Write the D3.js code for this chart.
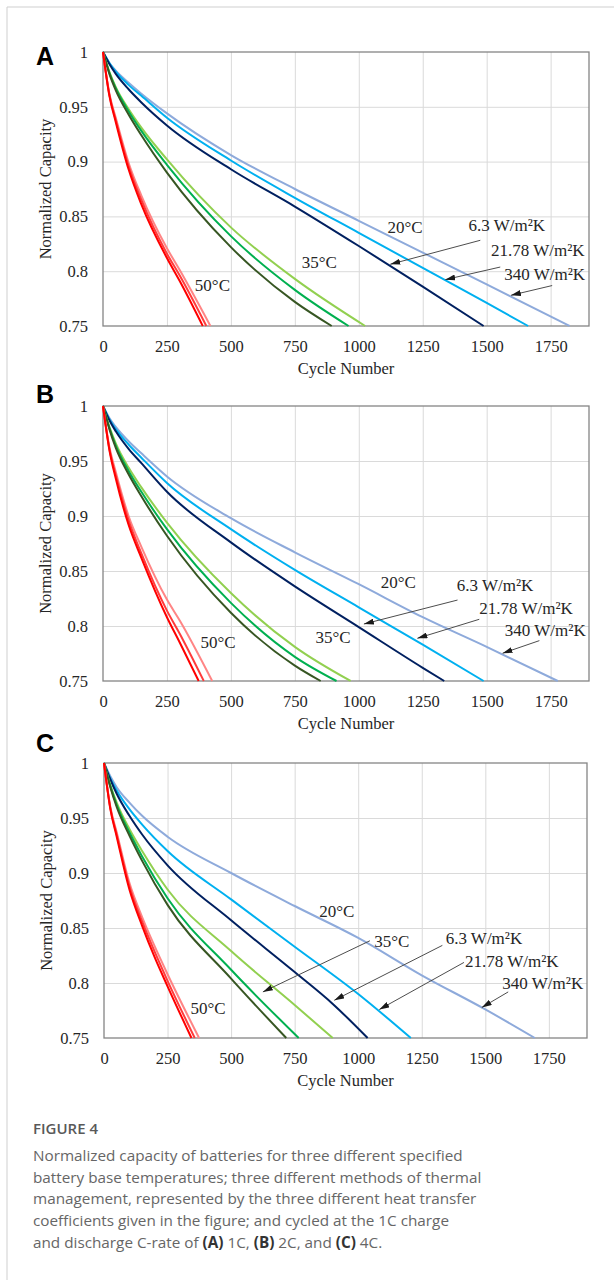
<!DOCTYPE html>
<html>
<head>
<meta charset="utf-8">
<script src="https://cdn.jsdelivr.net/npm/d3@7"></script>
<style>
  body { margin: 0; background: #fff; }
  svg { display: block; }
</style>
</head>
<body>
<svg id="chart" width="614" height="1280"></svg>
<script>
// ---- axis ticks ----
const xTicks = [0, 250, 500, 750, 1000, 1250, 1500, 1750];
const yTicks = [0.75, 0.8, 0.85, 0.9, 0.95, 1];
const xMax = 1900;

// ---- (A) 1C : [cycle, normalized capacity] ----
const a20_340 = [[0,1],[25,0.99],[50,0.983],[100,0.972],[150,0.962],[250,0.944],[500,0.906],[750,0.875],[1000,0.846],[1250,0.817],[1500,0.788],[1824,0.75]];
const a20_21  = [[0,1],[25,0.99],[50,0.982],[100,0.97],[150,0.96],[250,0.94],[500,0.901],[750,0.867],[1000,0.835],[1250,0.803],[1500,0.771],[1662,0.75]];
const a20_6   = [[0,1],[25,0.989],[50,0.98],[100,0.966],[150,0.954],[250,0.933],[500,0.893],[750,0.859],[1000,0.823],[1250,0.786],[1488,0.75]];
const a35_340 = [[0,1],[25,0.982],[50,0.968],[100,0.948],[150,0.931],[250,0.902],[500,0.84],[750,0.793],[1025,0.75]];
const a35_21  = [[0,1],[25,0.981],[50,0.967],[100,0.946],[150,0.928],[250,0.897],[500,0.832],[750,0.783],[960,0.75]];
const a35_6   = [[0,1],[25,0.98],[50,0.965],[100,0.943],[150,0.924],[250,0.89],[500,0.822],[750,0.772],[894,0.75]];
const a50_340 = [[0,1],[25,0.962],[50,0.94],[100,0.899],[150,0.869],[250,0.821],[300,0.801],[420,0.75]];
const a50_21  = [[0,1],[25,0.961],[50,0.938],[100,0.896],[150,0.865],[250,0.816],[300,0.796],[404,0.75]];
const a50_6   = [[0,1],[25,0.96],[50,0.936],[100,0.893],[150,0.861],[250,0.812],[300,0.791],[390,0.75]];

// ---- (B) 2C ----
const b20_340 = [[0,1],[25,0.989],[50,0.981],[100,0.968],[150,0.957],[250,0.936],[500,0.898],[750,0.867],[1000,0.838],[1250,0.808],[1500,0.781],[1778,0.75]];
const b20_21  = [[0,1],[25,0.988],[50,0.979],[100,0.965],[150,0.953],[250,0.93],[500,0.888],[750,0.851],[1000,0.817],[1250,0.783],[1488,0.75]];
const b20_6   = [[0,1],[25,0.987],[50,0.977],[100,0.961],[150,0.948],[250,0.922],[500,0.876],[750,0.836],[1000,0.799],[1250,0.762],[1334,0.75]];
const b35_340 = [[0,1],[25,0.981],[50,0.966],[100,0.944],[150,0.926],[250,0.894],[500,0.83],[750,0.781],[968,0.75]];
const b35_21  = [[0,1],[25,0.98],[50,0.964],[100,0.941],[150,0.922],[250,0.888],[500,0.821],[750,0.772],[913,0.75]];
const b35_6   = [[0,1],[25,0.979],[50,0.962],[100,0.938],[150,0.918],[250,0.882],[500,0.812],[750,0.764],[851,0.75]];
const b50_340 = [[0,1],[25,0.963],[50,0.94],[100,0.9],[150,0.872],[250,0.824],[300,0.805],[427,0.75]];
const b50_21  = [[0,1],[25,0.961],[50,0.937],[100,0.896],[150,0.866],[250,0.814],[300,0.793],[394,0.75]];
const b50_6   = [[0,1],[25,0.96],[50,0.934],[100,0.892],[150,0.862],[250,0.808],[300,0.785],[374,0.75]];

// ---- (C) 4C ----
const c20_340 = [[0,1],[25,0.988],[50,0.978],[100,0.964],[150,0.952],[250,0.933],[500,0.9],[750,0.87],[1000,0.841],[1250,0.807],[1500,0.776],[1695,0.75]];
const c20_21  = [[0,1],[25,0.986],[50,0.975],[100,0.958],[150,0.944],[250,0.92],[500,0.876],[750,0.833],[1000,0.79],[1207,0.75]];
const c20_6   = [[0,1],[25,0.985],[50,0.972],[100,0.952],[150,0.935],[250,0.907],[500,0.857],[750,0.81],[900,0.781],[1037,0.75]];
const c35_340 = [[0,1],[25,0.98],[50,0.964],[100,0.94],[150,0.92],[250,0.885],[500,0.829],[750,0.78],[900,0.75]];
const c35_21  = [[0,1],[25,0.979],[50,0.962],[100,0.937],[150,0.915],[250,0.877],[500,0.812],[766,0.75]];
const c35_6   = [[0,1],[25,0.978],[50,0.96],[100,0.934],[150,0.911],[250,0.871],[500,0.804],[717,0.75]];
const c50_340 = [[0,1],[25,0.96],[50,0.937],[100,0.891],[150,0.86],[200,0.833],[250,0.808],[374,0.75]];
const c50_21  = [[0,1],[25,0.959],[50,0.935],[100,0.888],[150,0.856],[200,0.828],[250,0.802],[357,0.75]];
const c50_6   = [[0,1],[25,0.958],[50,0.933],[100,0.885],[150,0.852],[200,0.823],[250,0.797],[344,0.75]];

// series styling, same order in every panel
const seriesColors = ["#8eaadb", "#00b0f0", "#002060", "#92d050", "#00b050", "#375623", "#ff8585", "#ff3c3c", "#ff0000"];

// ---- text annotations (in data units) ----
const annA = [["20°C", 1112, 0.835], ["6.3 W/m²K", 1429, 0.8364], ["21.78 W/m²K", 1517, 0.8136], ["340 W/m²K", 1569, 0.7923], ["35°C", 777, 0.8029], ["50°C", 359, 0.7817]];
const arrA = [[1475, 0.8282, 1123, 0.8063], [1553, 0.8038, 1338, 0.7923], [1756, 0.7869, 1595, 0.778]];
const annB = [["20°C", 1086, 0.8343], ["6.3 W/m²K", 1383, 0.8321], ["21.78 W/m²K", 1471, 0.8106], ["340 W/m²K", 1571, 0.7909], ["35°C", 831, 0.7848], ["50°C", 381, 0.7803]];
const arrB = [[1386, 0.8236, 1020, 0.8018], [1471, 0.8061, 1229, 0.7888], [1706, 0.7867, 1562, 0.7752]];
const annC = [["20°C", 847, 0.8603], ["35°C", 1063, 0.8329], ["6.3 W/m²K", 1344, 0.8354], ["21.78 W/m²K", 1420, 0.8141], ["340 W/m²K", 1567, 0.7941], ["50°C", 340, 0.7716]];
const arrC = [[1046, 0.8384, 625, 0.7919], [1331, 0.8342, 906, 0.7843], [1416, 0.8187, 1083, 0.7759], [1590, 0.7919, 1486, 0.7777]];

const panels = [
  { letter: "A", letterY: 65, left: 103, right: 589, top: 52, bottom: 326,
    series: [a20_340, a20_21, a20_6, a35_340, a35_21, a35_6, a50_340, a50_21, a50_6], labels: annA, arrows: arrA },
  { letter: "B", letterY: 403, left: 103, right: 589, top: 406, bottom: 681,
    series: [b20_340, b20_21, b20_6, b35_340, b35_21, b35_6, b50_340, b50_21, b50_6], labels: annB, arrows: arrB },
  { letter: "C", letterY: 752, left: 104, right: 587, top: 763, bottom: 1038,
    series: [c20_340, c20_21, c20_6, c35_340, c35_21, c35_6, c50_340, c50_21, c50_6], labels: annC, arrows: arrC }
];

const serif = "'Liberation Serif', 'Times New Roman', serif";
const svg = d3.select("#chart");

// page frame
svg.append("line").attr("x1", 7).attr("y1", 7).attr("x2", 614).attr("y2", 7).attr("stroke", "#cfcfcf");
svg.append("line").attr("x1", 7).attr("y1", 7).attr("x2", 7).attr("y2", 1280).attr("stroke", "#cfcfcf");

// arrow head
svg.append("defs").append("marker")
  .attr("id", "arrow")
  .attr("viewBox", "0 0 10 6")
  .attr("refX", 10).attr("refY", 3)
  .attr("markerWidth", 10).attr("markerHeight", 6)
  .attr("markerUnits", "userSpaceOnUse")
  .attr("orient", "auto")
  .append("path").attr("d", "M0,0L10,3L0,6Z").attr("fill", "#1a1a1a");

function fmt(v) { return String(+v.toFixed(2)); }

function drawPanel(p) {
  const x = d3.scaleLinear().domain([0, xMax]).range([p.left, p.right]);
  const y = d3.scaleLinear().domain([0.75, 1]).range([p.bottom, p.top]);
  const g = svg.append("g");
  const h = p.bottom - p.top, w = p.right - p.left;

  // grid
  g.append("g").attr("transform", `translate(0,${p.bottom})`)
    .call(d3.axisBottom(x).tickValues(xTicks.slice(1)).tickSize(-h).tickFormat(""))
    .call(s => s.select(".domain").remove())
    .selectAll("line").attr("stroke", "#dadada").attr("stroke-width", 1);
  g.append("g").attr("transform", `translate(${p.left},0)`)
    .call(d3.axisLeft(y).tickValues(yTicks.slice(1, -1)).tickSize(-w).tickFormat(""))
    .call(s => s.select(".domain").remove())
    .selectAll("line").attr("stroke", "#dadada").attr("stroke-width", 1);

  // tick labels
  const xa = g.append("g").attr("transform", `translate(0,${p.bottom})`)
    .call(d3.axisBottom(x).tickValues(xTicks).tickSize(0).tickPadding(14).tickFormat(d3.format("d")));
  xa.select(".domain").remove();
  xa.selectAll("text").attr("font-family", serif).attr("font-size", 16.5).attr("fill", "#262626");
  const ya = g.append("g").attr("transform", `translate(${p.left},0)`)
    .call(d3.axisLeft(y).tickValues(yTicks).tickSize(0).tickPadding(15).tickFormat(fmt));
  ya.select(".domain").remove();
  ya.selectAll("text").attr("font-family", serif).attr("font-size", 16.5).attr("fill", "#262626");

  // plot border
  g.append("rect").attr("x", p.left).attr("y", p.top).attr("width", w).attr("height", h)
    .attr("fill", "none").attr("stroke", "#858585").attr("stroke-width", 1.3);

  // curves
  const line = d3.line().x(d => x(d[0])).y(d => y(d[1])).curve(d3.curveMonotoneX);
  p.series.forEach((s, i) => {
    g.append("path").attr("d", line(s)).attr("fill", "none")
      .attr("stroke", seriesColors[i]).attr("stroke-width", 2);
  });

  // arrows
  p.arrows.forEach(a => {
    g.append("line")
      .attr("x1", x(a[0])).attr("y1", y(a[1]))
      .attr("x2", x(a[2])).attr("y2", y(a[3]))
      .attr("stroke", "#4d4d4d").attr("stroke-width", 1)
      .attr("marker-end", "url(#arrow)");
  });

  // labels
  p.labels.forEach(l => {
    g.append("text").attr("x", x(l[1])).attr("y", y(l[2]))
      .attr("font-family", serif).attr("font-size", 17).attr("fill", "#262626")
      .text(l[0]);
  });

  // axis titles
  g.append("text").attr("x", (p.left + p.right) / 2).attr("y", p.bottom + 48)
    .attr("text-anchor", "middle").attr("font-family", serif).attr("font-size", 16.5).attr("fill", "#262626")
    .text("Cycle Number");
  g.append("text").attr("transform", `translate(${p.left - 52},${(p.top + p.bottom) / 2}) rotate(-90)`)
    .attr("text-anchor", "middle").attr("font-family", serif).attr("font-size", 16.5).attr("fill", "#262626")
    .text("Normalized Capacity");

  // panel letter
  g.append("text").attr("x", 36).attr("y", p.letterY)
    .attr("font-family", "'Liberation Sans', Arial, sans-serif").attr("font-weight", "bold")
    .attr("font-size", 25).attr("fill", "#000").text(p.letter);
}

panels.forEach(drawPanel);

// ---- caption ----
const cap = svg.append("g").attr("font-family", "'Open Sans', sans-serif");
cap.append("text").attr("x", 33).attr("y", 1134).attr("font-size", 15).attr("font-weight", 600)
  .attr("fill", "#595959").text("FIGURE 4");
const capLines = [
  [["Normalized capacity of batteries for three different specified", 400]],
  [["battery base temperatures; three different methods of thermal", 400]],
  [["management, represented by the three different heat transfer", 400]],
  [["coefficients given in the figure; and cycled at the 1C charge", 400]],
  [["and discharge C-rate of ", 400], ["(A)", 700], [" 1C, ", 400], ["(B)", 700], [" 2C, and ", 400], ["(C)", 700], [" 4C.", 400]]
];
const capText = cap.selectAll("text.body").data(capLines).join("text")
  .attr("class", "body").attr("x", 33).attr("y", (d, i) => 1161 + i * 21.7)
  .attr("font-size", 15).attr("fill", "#666");
capText.selectAll("tspan").data(d => d).join("tspan")
  .attr("font-weight", d => d[1]).attr("fill", d => d[1] === 700 ? "#333" : null)
  .text(d => d[0]);
// fit the first line to its width in the figure
const w0 = capText.node().getComputedTextLength();
capText.attr("font-size", 15 * 430 / w0);
</script>
</body>
</html>
